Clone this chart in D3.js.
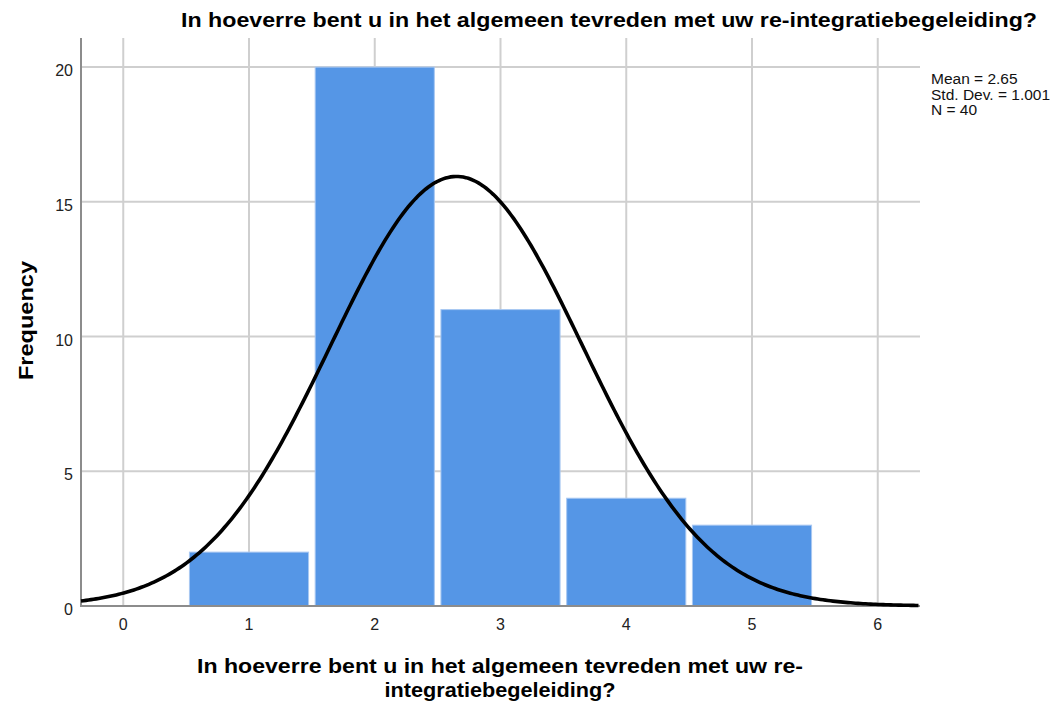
<!DOCTYPE html>
<html>
<head>
<meta charset="utf-8">
<script src="https://cdn.jsdelivr.net/npm/d3@7"></script>
<style>
  body { margin: 0; background: #fff; }
  text { font-family: "Liberation Sans", Arial, sans-serif; }
</style>
</head>
<body>
<div id="chart"></div>
<script>
// histogram values
const categories = [1, 2, 3, 4, 5];
const counts = [2, 20, 11, 4, 3];
const xTicks = [0, 1, 2, 3, 4, 5, 6];
const yTicks = [0, 5, 10, 15, 20];
const statsLines = ["Mean = 2.65", "Std. Dev. = 1.001", "N = 40"];
const MEAN = 2.65, SD = 1.001, N = 40;

const titleText = "In hoeverre bent u in het algemeen tevreden met uw re-integratiebegeleiding?";
const xLabelLines = ["In hoeverre bent u in het algemeen tevreden met uw re-", "integratiebegeleiding?"];

const W = 1057, H = 707;
let svg = d3.select("#chart").append("svg")
    .attr("width", W)
    .attr("height", H);

let x = d3.scaleLinear().domain([-0.336, 6.336]).range([81, 920]);
let y = d3.scaleLinear().domain([0, 21.08]).range([606, 38]);

// gridlines
svg.append("g").selectAll("line").data(xTicks).enter().append("line")
    .attr("x1", d => x(d)).attr("x2", d => x(d))
    .attr("y1", y.range()[1]).attr("y2", y(0))
    .attr("stroke", "#cfcfcf").attr("stroke-width", 2);
svg.append("g").selectAll("line").data(yTicks.slice(1)).enter().append("line")
    .attr("x1", x.range()[0]).attr("x2", x.range()[1])
    .attr("y1", d => y(d)).attr("y2", d => y(d))
    .attr("stroke", "#cfcfcf").attr("stroke-width", 2);

// bars
let gap = 3.3;
svg.append("g").selectAll("rect").data(categories).enter().append("rect")
    .attr("x", d => x(d - 0.5) + gap)
    .attr("width", d => x(d + 0.5) - x(d - 0.5) - 2 * gap)
    .attr("y", (d, i) => y(counts[i]))
    .attr("height", (d, i) => y(0) - y(counts[i]))
    .attr("fill", "#5596e6")
    .attr("stroke", "#a8c8f2")
    .attr("stroke-width", 1);

// axes lines
svg.append("line")
    .attr("x1", x.range()[0]).attr("x2", x.range()[0])
    .attr("y1", y.range()[1]).attr("y2", y(0) + 1)
    .attr("stroke", "#8c8c8c").attr("stroke-width", 2);
svg.append("line")
    .attr("x1", x.range()[0]).attr("x2", x.range()[1])
    .attr("y1", y(0)).attr("y2", y(0))
    .attr("stroke", "#8c8c8c").attr("stroke-width", 2);

// tick labels
svg.append("g").selectAll("text").data(yTicks).enter().append("text")
    .attr("x", 73).attr("y", d => y(d) + 9)
    .attr("text-anchor", "end")
    .attr("font-size", 16)
    .attr("fill", "#222")
    .text(d => d);
svg.append("g").selectAll("text").data(xTicks).enter().append("text")
    .attr("x", d => x(d)).attr("y", 630)
    .attr("text-anchor", "middle")
    .attr("font-size", 16)
    .attr("fill", "#222")
    .text(d => d);

// normal curve
let curveX = d3.range(x.domain()[0], x.domain()[1] + 0.001, 0.02);
let normal = v => N * Math.exp(-0.5 * Math.pow((v - MEAN) / SD, 2)) / (SD * Math.sqrt(2 * Math.PI));
svg.append("path")
    .datum(curveX)
    .attr("fill", "none")
    .attr("stroke", "#000")
    .attr("stroke-width", 3.6)
    .attr("d", d3.line().x(d => x(d)).y(d => y(normal(d))));

// stats box
svg.append("g").selectAll("text").data(statsLines).enter().append("text")
    .attr("x", 931).attr("y", (d, i) => 84 + i * 15.5)
    .attr("font-size", 15.5)
    .attr("fill", "#111")
    .text(d => d);

// title
svg.append("text")
    .attr("x", 181).attr("y", 27)
    .attr("font-size", 20.5).attr("font-weight", "bold")
    .attr("textLength", 856).attr("lengthAdjust", "spacingAndGlyphs")
    .text(titleText);

// x label
let xLabelWidths = [606, 231];
svg.append("g").selectAll("text").data(xLabelLines).enter().append("text")
    .attr("x", (d, i) => 500 - xLabelWidths[i] / 2).attr("y", (d, i) => 673 + i * 23.5)
    .attr("font-size", 20.5).attr("font-weight", "bold")
    .attr("textLength", (d, i) => xLabelWidths[i]).attr("lengthAdjust", "spacingAndGlyphs")
    .text(d => d);

// y label
svg.append("text")
    .attr("transform", "translate(33,380) rotate(-90)")
    .attr("font-size", 21).attr("font-weight", "bold")
    .attr("textLength", 119).attr("lengthAdjust", "spacingAndGlyphs")
    .text("Frequency");
</script>
</body>
</html>
